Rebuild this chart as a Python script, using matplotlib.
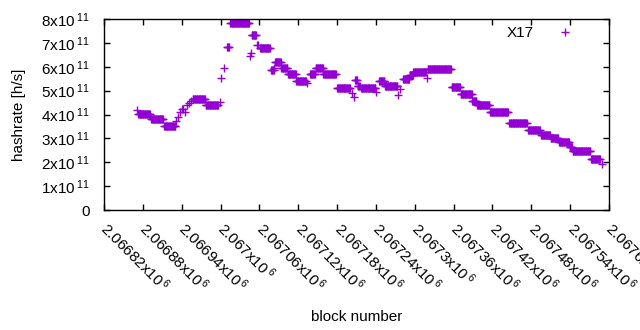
import matplotlib
matplotlib.use("Agg")
import matplotlib.pyplot as plt
import numpy as np
from matplotlib.ticker import FixedLocator, FuncFormatter

plt.rcParams.update({
    "font.family": "Liberation Sans",
    "font.size": 11,
    "mathtext.fontset": "custom",
    "mathtext.rm": "Liberation Sans",
    "mathtext.it": "Liberation Sans:italic",
    "mathtext.bf": "Liberation Sans:bold",
})

# difficulty periods: first block, last block, hashrate (x1e11 h/s)
run_start = [2066871, 2066873, 2066893, 2066913, 2066931, 2066934, 2066938, 2066940,
             2066942, 2066945, 2066948, 2066951, 2066954, 2066957, 2066977, 2066999,
             2067001, 2067005, 2067010, 2067015, 2067045, 2067047, 2067048, 2067057,
             2067061, 2067078, 2067083, 2067084, 2067094, 2067104, 2067117, 2067134,
             2067138, 2067147, 2067159, 2067180, 2067203, 2067206, 2067208, 2067212,
             2067217, 2067240, 2067245, 2067254, 2067274, 2067277, 2067282, 2067292,
             2067298, 2067319, 2067320, 2067357, 2067371, 2067389, 2067396, 2067416,
             2067446, 2067475, 2067495, 2067510, 2067523, 2067539, 2067544, 2067572,
             2067589]
run_end = [2066871, 2066891, 2066911, 2066930, 2066931, 2066934, 2066938, 2066940,
           2066942, 2066945, 2066948, 2066951, 2066954, 2066976, 2066996, 2066999,
           2067001, 2067005, 2067013, 2067044, 2067045, 2067047, 2067055, 2067058,
           2067076, 2067082, 2067083, 2067093, 2067103, 2067116, 2067132, 2067134,
           2067146, 2067158, 2067178, 2067200, 2067203, 2067206, 2067211, 2067215,
           2067239, 2067240, 2067253, 2067273, 2067274, 2067277, 2067291, 2067297,
           2067317, 2067319, 2067356, 2067370, 2067388, 2067395, 2067415, 2067444,
           2067473, 2067493, 2067509, 2067521, 2067538, 2067543, 2067571, 2067586,
           2067589]
run_rate = [4.19, 4.01, 3.80, 3.52, 3.73, 3.90, 4.12, 4.23,
            4.25, 4.12, 4.40, 4.47, 4.57, 4.64, 4.41, 4.54,
            5.52, 5.94, 6.81, 7.84, 6.45, 6.56, 7.32, 6.91,
            6.77, 5.86, 5.94, 6.19, 5.94, 5.69, 5.39, 5.31,
            5.68, 5.95, 5.69, 5.10, 4.89, 4.75, 5.43, 5.19,
            5.13, 4.96, 5.40, 5.18, 4.82, 5.06, 5.47, 5.65,
            5.78, 5.54, 5.89, 5.14, 4.85, 4.57, 4.39, 4.09,
            3.63, 3.34, 3.15, 3.00, 2.83, 2.62, 2.48, 2.12,
            1.91]

x_ticks = np.arange(2066820, 2067601, 60)
y_ticks = np.arange(0, 9) * 1e11

blocks = np.concatenate([np.arange(s, e + 1) for s, e in zip(run_start, run_end)])
rates = np.concatenate([np.full(e - s + 1, r * 1e11) for s, e, r in zip(run_start, run_end, run_rate)])

fig = plt.figure(figsize=(6.4, 3.3), dpi=100)
ax = fig.add_axes([104 / 640, 1 - 210 / 330, 505 / 640, 191 / 330])
ax.plot(blocks, rates, "+", color="#9400d3", ms=5.5, mew=1.0, label="X17")

ax.set_xlim(x_ticks[0], x_ticks[-1])
ax.set_ylim(0, 8e11)
ax.xaxis.set_major_locator(FixedLocator(x_ticks))
ax.yaxis.set_major_locator(FixedLocator(y_ticks))


def fmt_x(v, pos):
    return r"%gx10$\,^{6}$" % (v / 1e6)


def fmt_y(v, pos):
    if v == 0:
        return "0"
    # gnuplot leaves extra room after superscripted labels
    return r"%gx10$\,^{11}\;\;$" % (v / 1e11)


ax.xaxis.set_major_formatter(FuncFormatter(fmt_x))
ax.yaxis.set_major_formatter(FuncFormatter(fmt_y))
ax.tick_params(direction="in", length=4, width=1, top=True, right=True, labelsize=11)
ax.tick_params(axis="x", pad=11)
ax.tick_params(axis="y", pad=10)
for lab in ax.get_xticklabels():
    lab.set_rotation(-45)
    lab.set_ha("left")
    lab.set_va("center")
    lab.set_rotation_mode("anchor")
for sp in ax.spines.values():
    sp.set_linewidth(1)

ax.set_xlabel("block number", labelpad=11)
ax.set_ylabel("hashrate [h/s]")
ax.yaxis.set_label_coords(-0.154, 0.5)
ax.legend(loc="upper right", markerfirst=False, frameon=False, handlelength=2.5,
          handletextpad=0.8, bbox_to_anchor=(0.972, 1.02), borderaxespad=0.3)

fig.savefig("out.png", dpi=100)
